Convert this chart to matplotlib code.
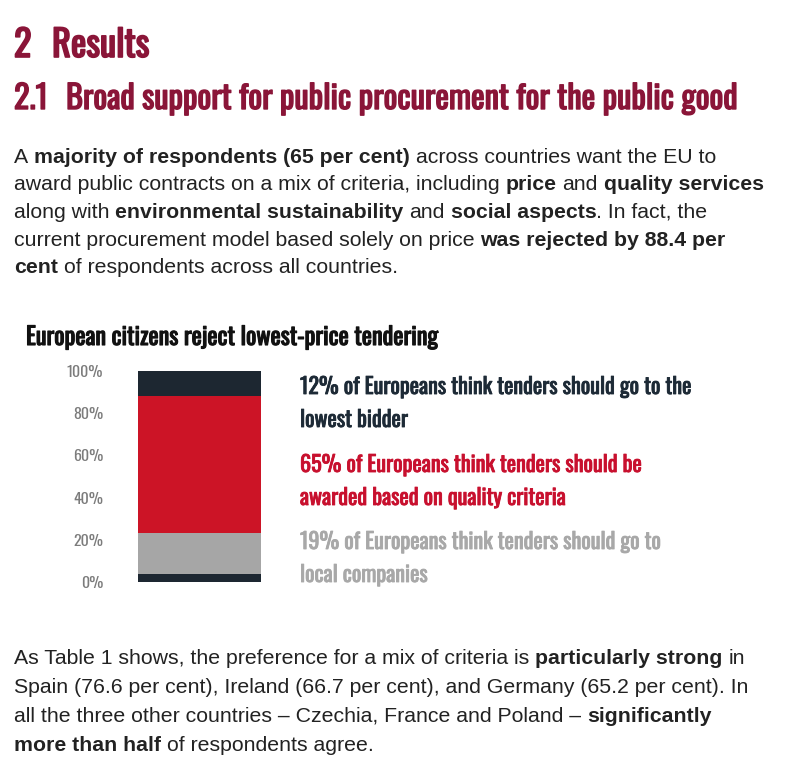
import matplotlib
matplotlib.use("Agg")
import numpy as np
import matplotlib.pyplot as plt
import matplotlib.patheffects as pe
from matplotlib import font_manager as fm
from matplotlib.transforms import IdentityTransform

# --- data -------------------------------------------------------------
segment_names = ["No answer", "Local companies", "Quality criteria", "Lowest bidder"]
segment_values = [4, 19, 65, 12]
segment_colors = ["#1d2731", "#a6a6a6", "#cc1426", "#1d2731"]

tick_values = [0, 20, 40, 60, 80, 100]
tick_labels = ["0%", "20%", "40%", "60%", "80%", "100%"]

chart_title = "European citizens reject lowest-price tendering"
note_lines = [
    "12% of Europeans think tenders should go to the",
    "lowest bidder",
    "65% of Europeans think tenders should be",
    "awarded based on quality criteria",
    "19% of Europeans think tenders should go to",
    "local companies",
]
note_colors = ["#1d2a36", "#1d2a36", "#c8102e", "#c8102e", "#a8a8a8", "#a8a8a8"]

para1 = [
    "A **majority of respondents (65 per cent)** across countries want the EU to",
    "award public contracts on a mix of criteria, including **price** and **quality services**",
    "along with **environmental sustainability** and **social aspects**. In fact, the",
    "current procurement model based solely on price **was rejected by 88.4 per**",
    "**cent** of respondents across all countries.",
]
para2 = [
    "As Table 1 shows, the preference for a mix of criteria is **particularly strong** in",
    "Spain (76.6 per cent), Ireland (66.7 per cent), and Germany (65.2 per cent). In",
    "all the three other countries \u2013 Czechia, France and Poland \u2013 **significantly**",
    "**more than half** of respondents agree.",
]


def pick_font(names):
    for name in names:
        try:
            fm.findfont(fm.FontProperties(family=name), fallback_to_default=False)
            return name
        except ValueError:
            pass
    return "DejaVu Sans"


COND = pick_font(["Oswald", "Roboto Condensed", "Liberation Sans Narrow", "DejaVu Sans"])
BODY = pick_font(["Liberation Sans", "Arial", "DejaVu Sans"])
cond_kw = {"family": COND, "weight": "bold"}
if COND == "DejaVu Sans":
    cond_kw["stretch"] = "condensed"

W, H = 805, 772
fig = plt.figure(figsize=(W / 100, H / 100), dpi=100, facecolor="white")
renderer = fig.canvas.get_renderer()
px = IdentityTransform()


def put(x, y, s, **kw):
    # x, y in output pixels, y measured from the top
    return fig.text(x, H - y, s, transform=px, va="baseline", ha="left", **kw)


def heavy(color, lw):
    # the condensed face only ships one weight, so thicken it with a stroke
    return [pe.withStroke(linewidth=lw, foreground=color)]


def width(t):
    return t.get_window_extent(renderer).width


def fit_size(s, target, **kw):
    t = put(0, 0, s, fontsize=10, **kw)
    w = width(t)
    t.remove()
    return 10 * target / w


def rich_line(x, y, line, size, color):
    artists = []
    chunks = line.split("**")
    for i, chunk in enumerate(chunks):
        if not chunk:
            continue
        weight = "bold" if i % 2 else "normal"
        a = put(0, 0, "n n", fontsize=size, family=BODY, weight=weight)
        b = put(0, 0, "nn", fontsize=size, family=BODY, weight=weight)
        sp = width(a) - width(b)
        a.remove()
        b.remove()
        if chunk.startswith(" "):
            x += sp
        t = put(x, y, chunk.strip(), fontsize=size, family=BODY, weight=weight, color=color)
        artists.append(t)
        x += width(t)
        if chunk.endswith(" "):
            x += sp
    return artists, x


# body font size fitted to the widest line of the first paragraph
arts, end = rich_line(14, 0, para1[1], 10, "#222222")
for a in arts:
    a.remove()
body_size = 10 * (767 - 14) / (end - 14)

# --- headings ---------------------------------------------------------
head_color = "#8a1538"
hs1 = fit_size("Results", 97, **cond_kw)
put(14, 57, "2", fontsize=hs1, color=head_color, path_effects=heavy(head_color, 1.2), **cond_kw)
put(52, 57, "Results", fontsize=hs1, color=head_color,
    path_effects=heavy(head_color, 1.2), **cond_kw)
hs2 = fit_size("Broad support for public procurement for the public good", 670, **cond_kw)
put(14, 109, "2.1", fontsize=hs2, color=head_color, path_effects=heavy(head_color, 1.0), **cond_kw)
put(66, 109, "Broad support for public procurement for the public good",
    fontsize=hs2, color=head_color, path_effects=heavy(head_color, 1.0), **cond_kw)

# --- paragraphs -------------------------------------------------------
for i, line in enumerate(para1):
    rich_line(14, 163 + 27.5 * i, line, body_size, "#222222")
for i, line in enumerate(para2):
    rich_line(14, 664 + 29 * i, line, body_size, "#222222")

# --- chart ------------------------------------------------------------
ts = fit_size(chart_title, 412, **cond_kw)
put(26, 345, chart_title, fontsize=ts, color="#111111",
    path_effects=heavy("#111111", 0.8), **cond_kw)

ax = fig.add_axes([138 / W, (H - 582) / H, (261 - 138) / W, (582 - 371) / H])
bottoms = np.concatenate([[0], np.cumsum(segment_values)[:-1]])
ax.bar([0] * len(segment_values), segment_values, bottom=bottoms, width=1,
       color=segment_colors, linewidth=0)
ax.set_xlim(-0.5, 0.5)
ax.set_ylim(0, 100)
ax.set_xticks([])
ax.set_yticks(tick_values)
ax.set_yticklabels(tick_labels, fontsize=11.5, color="#7c7c7c", family=COND)
ax.tick_params(axis="y", length=0, pad=25)
for s in ax.spines.values():
    s.set_visible(False)

ns = fit_size(note_lines[0], 390, **cond_kw)
note_base = [394, 427, 472, 505, 549, 582]
for line, yb, c in zip(note_lines, note_base, note_colors):
    put(300, yb, line, fontsize=ns, color=c, path_effects=heavy(c, 0.6), **cond_kw)

fig.savefig("out.png", dpi=100, facecolor="white")
